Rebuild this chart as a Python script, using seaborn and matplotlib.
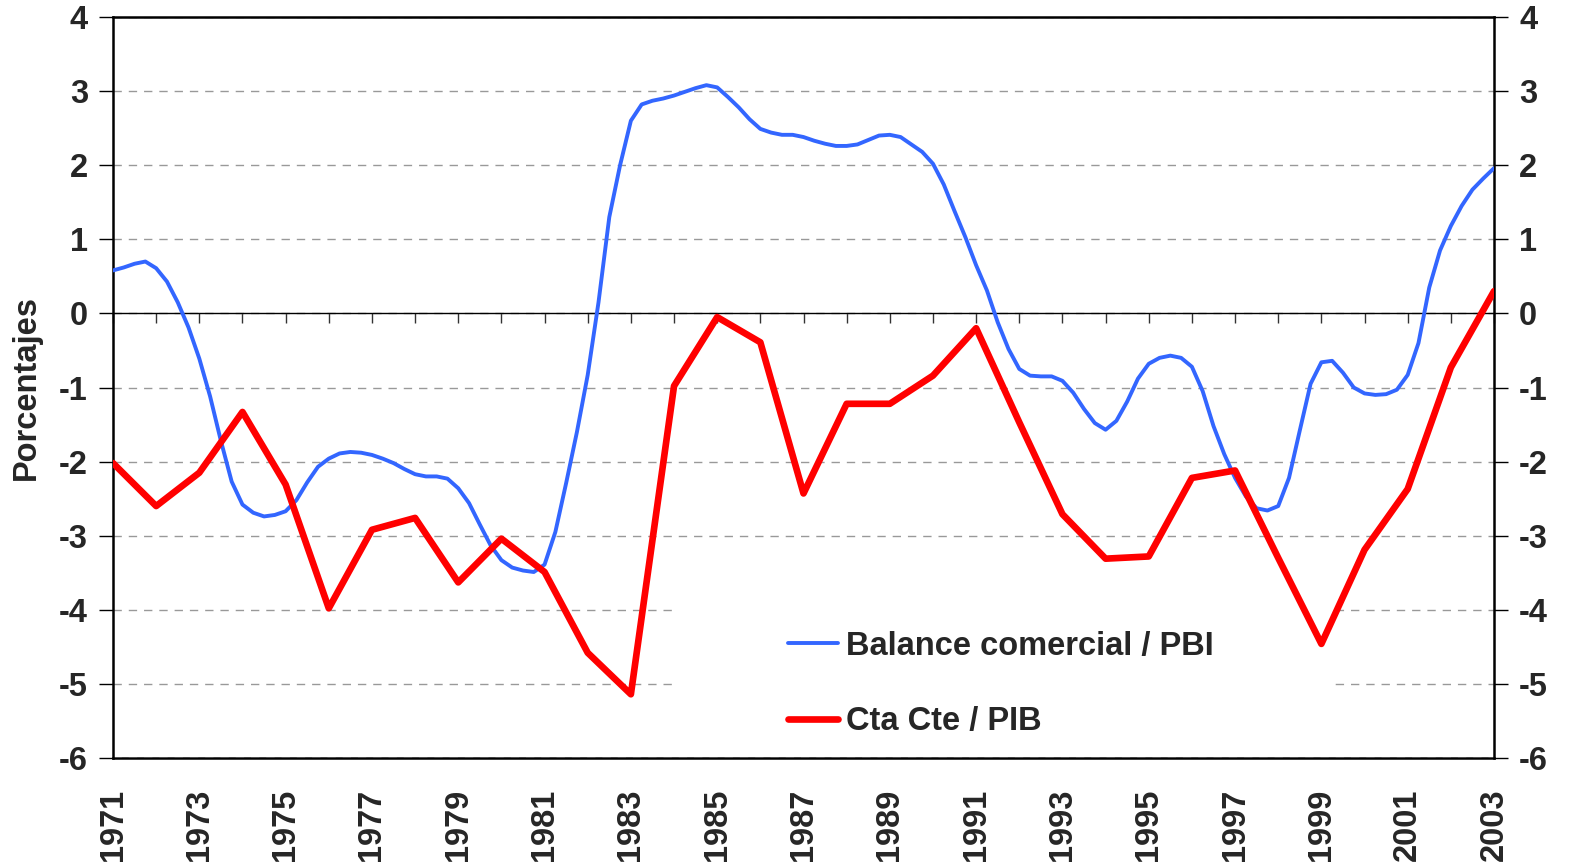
import numpy as np
import pandas as pd
import matplotlib
matplotlib.use("Agg")
import matplotlib.pyplot as plt
from matplotlib.patches import Rectangle
import seaborn as sns

# ---------------- data ----------------
years = list(range(1971, 2004))
cta_cte_pib = [-2.02, -2.60, -2.15, -1.33, -2.31, -3.98, -2.92, -2.76, -3.63, -3.04,
               -3.49, -4.58, -5.14, -0.98, -0.05, -0.39, -2.43, -1.22, -1.22, -0.84,
               -0.20, -1.47, -2.71, -3.31, -3.28, -2.22, -2.12, -3.30, -4.46, -3.19,
               -2.37, -0.73, 0.30]

# quarterly series, 1971Q1 .. 2003Q1
balance_start = 1971.0
balance_pbi = [
    0.58, 0.62, 0.67, 0.70,
    0.61, 0.43, 0.15, -0.19,
    -0.61, -1.12, -1.72, -2.27,
    -2.58, -2.69, -2.74, -2.72,
    -2.67, -2.52, -2.28, -2.07,
    -1.96, -1.89, -1.87, -1.88,
    -1.91, -1.96, -2.02, -2.10,
    -2.17, -2.20, -2.20, -2.23,
    -2.36, -2.56, -2.85, -3.13,
    -3.33, -3.43, -3.47, -3.49,
    -3.39, -2.95, -2.29, -1.60,
    -0.83, 0.15, 1.30, 2.00,
    2.60, 2.82, 2.87, 2.90,
    2.94, 2.99, 3.04, 3.08,
    3.05, 2.92, 2.78, 2.62,
    2.49, 2.44, 2.41, 2.41,
    2.38, 2.33, 2.29, 2.26,
    2.26, 2.28, 2.34, 2.40,
    2.41, 2.38, 2.28, 2.18,
    2.02, 1.74, 1.38, 1.03,
    0.65, 0.31, -0.12, -0.48,
    -0.75, -0.84, -0.85, -0.85,
    -0.91, -1.07, -1.29, -1.48,
    -1.57, -1.45, -1.19, -0.88,
    -0.68, -0.60, -0.57, -0.60,
    -0.72, -1.05, -1.52, -1.90,
    -2.22, -2.47, -2.63, -2.66,
    -2.60, -2.22, -1.58, -0.95,
    -0.66, -0.64, -0.80, -1.00,
    -1.08, -1.10, -1.09, -1.03,
    -0.83, -0.40, 0.35, 0.85,
    1.18, 1.45, 1.67, 1.82,
    1.96,
]
series_names = ["Balance comercial / PBI", "Cta Cte / PIB"]
y_ticks = list(range(-6, 5))
x_label_years = list(range(1971, 2004, 2))

df_bal = pd.DataFrame({
    "t": balance_start + np.arange(len(balance_pbi)) / 4.0,
    "v": balance_pbi,
})
df_cta = pd.DataFrame({"t": years, "v": cta_cte_pib})

# ---------------- style ----------------
sns.set_theme(style="white")
plt.rcParams["font.family"] = ["Liberation Sans", "DejaVu Sans"]
plt.rcParams["font.weight"] = "bold"

fig = plt.figure(figsize=(15.73, 8.67), dpi=100)
ax = fig.add_axes([113 / 1573, 1 - 758 / 867, (1494 - 113) / 1573, (758 - 17) / 867])

blue = "#3366FF"
red = "#FF0000"
fs = 23.5

sns.lineplot(data=df_bal, x="t", y="v", ax=ax, color=blue, lw=2.8,
             label=series_names[0], zorder=3)
sns.lineplot(data=df_cta, x="t", y="v", ax=ax, color=red, lw=4.8,
             label=series_names[1], zorder=4)

ax.set_xlim(years[0], years[-1])
ax.set_ylim(y_ticks[0], y_ticks[-1])

# gridlines
ax.set_yticks(y_ticks)
ax.yaxis.grid(True, color="#999999", lw=1.0, ls=(0, (6, 5)))
ax.xaxis.grid(False)
ax.set_axisbelow(True)

# zero line as axis with year ticks
ax.spines["bottom"].set_position(("data", 0))
ax.spines["bottom"].set_linewidth(1.0)
ax.spines["bottom"].set_color("black")
ax.set_xticks(years)
ax.tick_params(axis="x", which="major", bottom=True, labelbottom=False,
               length=7, width=1.0, direction="out", color="#333333")

# outer frame
for s in ["left", "right", "top"]:
    ax.spines[s].set_visible(True)
    ax.spines[s].set_color("black")
    ax.spines[s].set_linewidth(1.8)

# bottom frame + labels via secondary axis
sec = ax.secondary_xaxis("bottom")
sec.spines["bottom"].set_linewidth(1.8)
sec.spines["bottom"].set_color("black")
sec.set_xticks(x_label_years)
sec.set_xticklabels([str(y) for y in x_label_years], rotation=90,
                    fontsize=fs, fontweight="bold")
sec.tick_params(axis="x", length=0, pad=22)

# y tick labels both sides
ax.tick_params(axis="y", left=True, right=True, labelleft=True, labelright=True,
               length=10, width=1.0, direction="out", color="black",
               labelsize=fs, pad=8)
ax.set_yticklabels([str(v) for v in y_ticks], fontweight="bold")

ax.set_xlabel("")
ax.set_ylabel("Porcentajes", fontsize=fs, fontweight="bold")
ax.yaxis.set_label_coords(-0.0514, 0.5)

# white legend background hiding gridlines
ax.add_patch(Rectangle((0.4055, 0.04), 0.475, 0.21, transform=ax.transAxes,
                       facecolor="white", edgecolor="none", zorder=1.5))

leg = ax.legend(loc="center left", bbox_to_anchor=(0.4794, 0.100), frameon=False,
                prop={"size": fs, "weight": "bold"}, handlelength=1.53,
                handletextpad=0.25, labelspacing=1.35, borderaxespad=0)

fig.savefig("out.png", dpi=100)
